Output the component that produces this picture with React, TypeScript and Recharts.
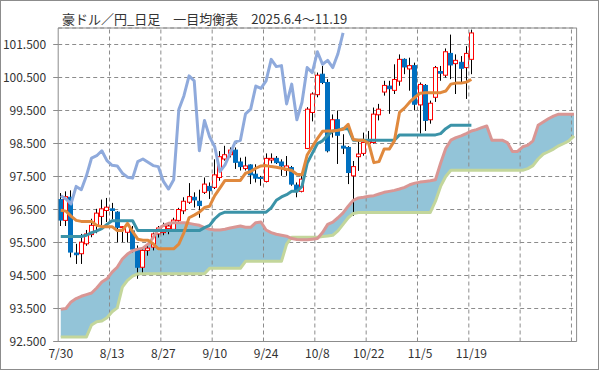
import React from 'react';
import { ComposedChart, Bar, Line, Area, XAxis, YAxis, CartesianGrid, ReferenceLine } from 'recharts';

// x axis: one slot per trading day from 7/30, label every 10 days
const tickLabels = ['7/30', '8/13', '8/27', '9/10', '9/24', '10/8', '10/22', '11/5', '11/19'];
const priceTicks = [92.5, 93.5, 94.5, 95.5, 96.5, 97.5, 98.5, 99.5, 100.5, 101.5];
const SLOTS = 101;

// daily candles (7/30 .. 11/19)
const opens = [
  96.8, 96.17, 96.87, 95.18, 95.16, 95.46, 95.74, 96.02, 96.29, 96.47,
  96.52, 96.42, 95.96, 95.81, 95.85, 95.3, 94.75, 95.26, 95.36, 95.76,
  95.8, 95.92, 95.9, 96.17, 96.46, 96.72, 96.87, 96.75, 97.02, 97.2,
  97.17, 97.47, 98.03, 98.16, 98.3, 97.94, 97.74, 97.85, 97.57, 97.47,
  97.35, 98.0, 98.05, 97.94, 97.69, 97.77, 97.24, 97.05, 98.35, 99.44,
  99.98, 100.6, 100.35, 98.88, 99.22, 98.42, 98.38, 97.52, 98.1, 98.2,
  98.5, 98.53, 99.37, 100.06, 100.24, 100.11, 100.39, 101.05, 100.76, 100.86,
  99.67, 100.26, 99.22, 99.9, 100.68, 100.57, 101.23, 100.92, 100.96, 100.8, 101.05,
];
const highs = [
  97.0, 97.05, 97.08, 95.46, 95.76, 95.88, 96.22, 96.52, 96.8, 96.85,
  96.7, 96.45, 96.0, 96.17, 96.0, 95.41, 95.36, 95.45, 95.8, 96.0,
  96.1, 96.1, 96.25, 96.55, 96.87, 97.3, 97.02, 97.1, 97.47, 97.32,
  98.02, 98.27, 98.43, 98.38, 98.38, 98.07, 98.1, 97.87, 97.87, 97.52,
  98.2, 98.2, 98.12, 98.02, 98.12, 97.82, 97.32, 97.52, 99.6, 100.05,
  100.65, 100.85, 100.45, 99.38, 99.5, 98.78, 98.42, 97.97, 98.63, 98.83,
  98.88, 99.59, 99.7, 100.4, 100.4, 100.9, 101.2, 101.08, 101.1, 100.95,
  100.35, 100.3, 99.8, 100.85, 100.85, 101.38, 101.8, 101.2, 101.15, 101.45, 101.95,
];
const lows = [
  96.0, 96.0, 95.05, 94.85, 94.85, 95.4, 95.66, 95.78, 96.02, 96.12,
  96.2, 95.51, 95.51, 95.5, 95.2, 94.4, 94.57, 95.1, 95.26, 95.65,
  95.72, 95.75, 95.85, 96.1, 96.36, 96.67, 96.56, 96.25, 96.97, 96.82,
  97.12, 97.37, 97.98, 98.08, 97.73, 97.68, 97.68, 97.27, 97.32, 97.22,
  97.32, 97.9, 97.88, 97.52, 97.52, 97.22, 96.87, 97.02, 98.33, 99.17,
  99.9, 100.3, 98.23, 98.68, 97.88, 98.18, 97.27, 96.31, 97.67, 98.13,
  98.45, 98.5, 99.2, 99.95, 99.4, 100.0, 100.25, 100.6, 100.1, 99.5,
  98.8, 98.88, 99.1, 99.76, 100.4, 100.5, 100.45, 100.0, 100.35, 99.85, 100.6,
];
const closes = [
  96.18, 96.89, 95.21, 95.13, 95.51, 95.76, 96.02, 96.39, 96.52, 96.57,
  96.47, 95.96, 95.98, 96.02, 95.3, 94.75, 95.26, 95.33, 95.76, 95.94,
  96.0, 96.0, 96.18, 96.5, 96.75, 96.89, 96.79, 96.62, 97.27, 97.07,
  97.55, 98.1, 98.16, 98.3, 97.93, 97.8, 97.82, 97.55, 97.45, 97.44,
  98.05, 98.05, 97.92, 97.82, 97.82, 97.27, 97.09, 97.42, 99.54, 100.0,
  100.57, 100.35, 98.28, 99.22, 98.75, 98.36, 97.62, 97.8, 98.18, 98.53,
  98.56, 99.39, 99.54, 100.26, 100.16, 100.44, 101.05, 100.82, 100.86, 99.69,
  100.29, 99.2, 99.72, 100.8, 100.63, 101.28, 100.88, 101.02, 100.78, 101.23, 101.85,
];

// 転換線
const tenkan = [
  96.48, 96.45, 96.3, 96.17, 96.14, 96.14, 96.14, 96.02, 95.98, 95.98,
  95.98, 95.86, 95.86, 96.08, 95.83, 95.6, 95.57, 95.57, 95.46, 95.31,
  95.31, 95.31, 95.31, 95.45, 95.8, 96.25, 96.33, 96.42, 96.56, 96.6,
  96.92, 97.15, 97.38, 97.38, 97.38, 97.38, 97.6, 97.65, 97.75, 97.82,
  97.83, 97.8, 97.78, 97.75, 97.72, 97.68, 97.57, 97.55, 98.15, 98.4,
  98.65, 98.87, 98.88, 98.88, 98.9, 98.93, 99.08, 98.62, 98.6, 98.6,
  98.5, 97.92, 97.95, 98.33, 98.33, 98.58, 99.44, 99.58, 99.76, 99.9,
  100.02, 100.04, 100.04, 100.04, 100.04, 100.09, 100.3, 100.33, 100.33, 100.36, 100.44,
];
// 基準線
const kijun = [
  95.68, 95.68, 95.68, 95.68, 95.68, 95.72, 95.8, 95.85, 95.92, 96.05,
  96.16, 96.16, 96.16, 96.16, 96.16, 95.86, 95.86, 95.86, 95.86, 95.86,
  95.86, 95.86, 95.86, 95.86, 95.86, 95.86, 95.86, 95.86, 95.95, 96.02,
  96.22, 96.36, 96.42, 96.42, 96.42, 96.42, 96.42, 96.42, 96.42, 96.42,
  96.42, 96.55, 96.78, 96.88, 96.95, 97.05, 97.05, 97.2, 97.9, 98.2,
  98.5, 98.58, 98.75, 98.88, 98.9, 98.95, 98.95, 98.6, 98.6, 98.6,
  98.6, 98.6, 98.6, 98.6, 98.6, 98.6, 98.76, 98.76, 98.76, 98.76,
  98.76, 98.76, 98.76, 98.76, 98.8, 98.95, 99.05, 99.05, 99.05, 99.05, 99.05,
];
// 遅行スパン
const chikou = [
  96.92, 96.82, 96.67, 97.2, 97.1, 97.52, 98.06, 98.13, 98.28, 97.98,
  97.84, 97.82, 97.6, 97.48, 97.45, 97.95, 98.03, 97.93, 97.83, 97.8,
  97.35, 97.12, 97.4, 99.53, 99.95, 100.55, 100.4, 98.28, 99.2, 98.7,
  98.4, 97.65, 97.85, 98.2, 98.55, 98.6, 99.4, 99.54, 100.24, 100.17,
  100.4, 101.05, 100.83, 100.86, 99.7, 100.3, 99.22, 99.75, 100.8, 100.65,
  101.28, 100.9, 101.02, 100.8, 101.22, 101.85,
];
// 先行スパンA / B
const spanA = [
  93.48, 93.5, 93.7, 93.8, 93.87, 93.92, 93.97, 94.12, 94.3, 94.4,
  94.6, 94.75, 95.0, 95.15, 95.25, 95.3, 95.33, 95.45, 95.65, 95.9,
  96.02, 96.08, 96.1, 96.1, 96.1, 96.08, 96.05, 96.02, 95.95, 95.9,
  95.88, 95.88, 95.9, 95.94, 95.97, 96.0, 95.96, 95.96, 96.1, 96.12,
  95.88, 95.8, 95.75, 95.72, 95.69, 95.62, 95.59, 95.58, 95.58, 95.6,
  95.62, 95.8, 96.05, 96.12, 96.25, 96.4, 96.6, 96.78, 96.85, 96.87,
  96.9, 96.92, 96.97, 97.02, 97.05, 97.08, 97.12, 97.17, 97.25, 97.3,
  97.33, 97.35, 97.37, 97.4, 97.9, 98.35, 98.6, 98.68, 98.73, 98.8,
  98.88, 98.92, 98.98, 99.03, 98.6, 98.6, 98.6, 98.53, 98.26, 98.26,
  98.4, 98.45, 98.58, 99.05, 99.15, 99.25, 99.33, 99.39, 99.39, 99.39, 99.39,
];
const spanB = [
  92.64, 92.64, 92.64, 92.64, 92.64, 92.64, 93.0, 93.1, 93.12, 93.22,
  93.4, 93.52, 94.15, 94.35, 94.48, 94.55, 94.55, 94.55, 94.55, 94.55,
  94.55, 94.55, 94.55, 94.55, 94.55, 94.55, 94.55, 94.55, 94.55, 94.72,
  94.72, 94.72, 94.72, 94.72, 94.72, 94.72, 94.93, 94.93, 94.93, 94.93,
  94.93, 94.93, 94.93, 94.93, 95.45, 95.66, 95.66, 95.66, 95.66, 95.66,
  95.66, 95.68, 95.7, 95.72, 95.85, 96.05, 96.25, 96.38, 96.41, 96.41,
  96.41, 96.41, 96.41, 96.41, 96.41, 96.41, 96.41, 96.41, 96.41, 96.41,
  96.41, 96.41, 96.41, 96.75, 97.2, 97.5, 97.69, 97.69, 97.69, 97.69,
  97.69, 97.69, 97.69, 97.69, 97.69, 97.69, 97.69, 97.69, 97.69, 97.69,
  97.69, 97.74, 97.83, 98.03, 98.18, 98.25, 98.33, 98.43, 98.5, 98.58, 98.73,
];

const rows = Array.from({ length: SLOTS }, (_, i) => ({
  idx: i,
  hl: i < opens.length ? [lows[i], highs[i]] : null,
  open: opens[i],
  high: highs[i],
  low: lows[i],
  close: closes[i],
  tenkan: tenkan[i],
  kijun: kijun[i],
  chikou: chikou[i],
  spanA: spanA[i],
  spanB: spanB[i],
  cloud: [spanB[i], spanA[i]],
}));

const GRID = '#8c8c8c';
const TEXT = '#333';

const Candle = (props: any) => {
  const { x, y, width, height, payload } = props;
  if (!payload || payload.open == null) return null;
  const { open, close, high, low } = payload;
  const top = Math.min(y, y + height);
  const h = Math.abs(height);
  const span = high - low || 1;
  const toY = (v: number) => top + ((high - v) / span) * h;
  const cx = Math.floor(x + width / 2) + 0.5;
  const up = close >= open;
  const bTop = toY(Math.max(open, close));
  const bBot = toY(Math.min(open, close));
  return (
    <g>
      <line x1={cx} x2={cx} y1={top} y2={top + h} stroke="#000" strokeWidth={1} />
      <rect
        x={cx - 2}
        y={bTop}
        width={4}
        height={Math.max(bBot - bTop, 1)}
        fill={up ? '#fff' : '#0070C0'}
        stroke={up ? '#FF0000' : '#0070C0'}
        strokeWidth={1}
      />
    </g>
  );
};

export default function App() {
  return (
    <div
      style={{
        position: 'absolute',
        left: 0,
        top: 0,
        width: 599,
        height: 370,
        boxSizing: 'border-box',
        border: '1px solid #8c8c8c',
        background: '#fff',
        fontFamily: "'Noto Sans CJK JP', 'Noto Sans', sans-serif",
      }}
    >
      <div style={{ position: 'absolute', left: 61, top: 8, fontSize: 13, color: TEXT, whiteSpace: 'nowrap' }}>
        豪ドル／円_日足　一目均衡表　2025.6.4～11.19
      </div>
      <ComposedChart
        width={597}
        height={368}
        data={rows}
        margin={{ top: 27, right: 21.4, bottom: 0, left: 0 }}
        style={{ position: 'absolute', left: 0, top: 0 }}
      >
        <CartesianGrid vertical={false} stroke={GRID} strokeDasharray="4 3" />
        {[10, 20, 30, 40, 50, 60, 70, 80, 90, 100].map((v) => (
          <ReferenceLine key={v} x={v} position="start" stroke={GRID} strokeDasharray="4 3" />
        ))}
        <ReferenceLine y={102} stroke={GRID} />
        <ReferenceLine x={100} position="end" stroke={GRID} />
        <XAxis
          dataKey="idx"
          type="category"
          ticks={[0, 10, 20, 30, 40, 50, 60, 70, 80]}
          tickFormatter={(v: number) => tickLabels[v / 10]}
          interval={0}
          axisLine={{ stroke: GRID }}
          tickLine={false}
          tickSize={0}
          tickMargin={8}
          height={27.5}
          tick={{ fontSize: 12, fill: TEXT }}
        />
        <YAxis
          type="number"
          domain={[92.5, 102]}
          ticks={priceTicks}
          interval={0}
          allowDataOverflow
          tickFormatter={(v: number) => v.toFixed(3)}
          width={57.2}
          axisLine={{ stroke: GRID }}
          tickLine={{ stroke: GRID }}
          tickSize={5}
          tickMargin={7}
          tick={{ fontSize: 12, fill: TEXT }}
        />
        <Area dataKey="cloud" fill="#93C4D8" fillOpacity={1} stroke="none" isAnimationActive={false} activeDot={false} />
        <Line dataKey="spanB" stroke="#C3D69B" strokeWidth={3} dot={false} activeDot={false} isAnimationActive={false} strokeLinejoin="round" />
        <Line dataKey="spanA" stroke="#D99694" strokeWidth={3} dot={false} activeDot={false} isAnimationActive={false} strokeLinejoin="round" />
        <Bar dataKey="hl" shape={<Candle />} isAnimationActive={false} />
        <Line dataKey="kijun" stroke="#3B93A8" strokeWidth={3} dot={false} activeDot={false} isAnimationActive={false} strokeLinejoin="round" />
        <Line dataKey="tenkan" stroke="#E0893D" strokeWidth={3} dot={false} activeDot={false} isAnimationActive={false} strokeLinejoin="round" />
        <Line dataKey="chikou" stroke="#8FAADC" strokeWidth={3} dot={false} activeDot={false} isAnimationActive={false} strokeLinejoin="round" />
      </ComposedChart>
    </div>
  );
}
